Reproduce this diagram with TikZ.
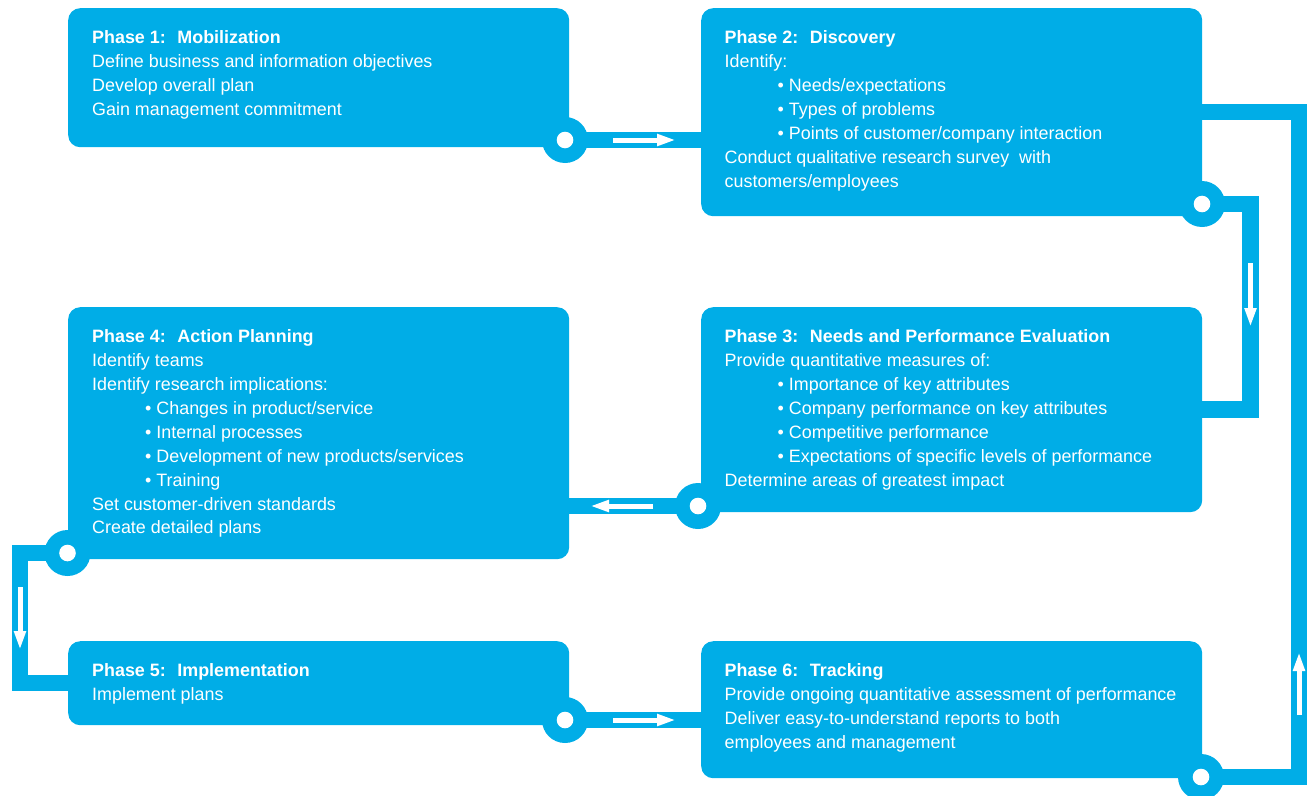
\documentclass[tikz,border=0pt]{standalone}
\usepackage{fontspec}
\setmainfont{Liberation Sans}
\usetikzlibrary{positioning, arrows.meta, backgrounds}
\definecolor{phaseblue}{RGB}{0,173,231}
\newcommand{\itm}{\hspace*{53pt}\textbullet\ }

\begin{document}
\begin{tikzpicture}[x=1pt, y=-1pt]
\tikzset{
phase/.style={fill=phaseblue, rounded corners=12pt, anchor=north west, inner sep=0pt}, % the six phase boxes
txt/.style={inner sep=0pt, align=left, text=white, font=\fontsize{17.9}{23.95}\selectfont}, % text inside a box
joint/.style={circle, fill=phaseblue, minimum size=46pt, inner sep=0pt,
  path picture={\fill[white] (path picture bounding box.center) circle (8.3pt);}}, % round joint with a hole
band/.style={draw=phaseblue, line width=16.5pt}, % the strips between the boxes
flow/.style={draw=white, line width=5pt, -{Triangle[length=19pt, width=11pt]}}, % arrow inside a strip
}
\useasboundingbox (0,0) rectangle (1308,795);

	% boxes
	\node[phase, minimum width=501pt, minimum height=139pt] (p1) at (68,8) {};
	\node[phase, minimum width=501pt, minimum height=208pt] (p2) at (701,8) {};
	\node[phase, minimum width=501pt, minimum height=205pt] (p3) at (701,307) {};
	\node[phase, minimum width=501pt, minimum height=252pt] (p4) at (68,307) {};
	\node[phase, minimum width=501pt, minimum height=84pt] (p5) at (68,641) {};
	\node[phase, minimum width=501pt, minimum height=137pt] (p6) at (701,641) {};

	% texts
	\node[txt, below right=18.4pt and 24pt of p1.north west] (t1) {\strut\textbf{Phase 1:~ Mobilization}\\
	Define business and information objectives\\
	Develop overall plan\\
	Gain management commitment};
	\node[txt, below right=18.4pt and 23.5pt of p2.north west] (t2) {\strut\textbf{Phase 2:~ Discovery}\\
	Identify:\\
	\itm Needs/expectations\\
	\itm Types of problems\\
	\itm Points of customer/company interaction\\
	Conduct qualitative research survey~ with\\
	customers/employees};
	\node[txt, below right=18.4pt and 23.5pt of p3.north west] (t3) {\strut\textbf{Phase 3:~ Needs and Performance Evaluation}\\
	Provide quantitative measures of:\\
	\itm Importance of key attributes\\
	\itm Company performance on key attributes\\
	\itm Competitive performance\\
	\itm Expectations of specific levels of performance\\
	Determine areas of greatest impact};
	\node[txt, below right=18.4pt and 24pt of p4.north west] (t4) {\strut\textbf{Phase 4:~ Action Planning}\\
	Identify teams\\
	Identify research implications:\\
	\itm Changes in product/service\\
	\itm Internal processes\\
	\itm Development of new products/services\\
	\itm Training\\
	Set customer-driven standards\\
	Create detailed plans};
	\node[txt, below right=18.4pt and 24pt of p5.north west] (t5) {\strut\textbf{Phase 5:~ Implementation}\\
	Implement plans};
	\node[txt, below right=18.4pt and 23.5pt of p6.north west] (t6) {\strut\textbf{Phase 6:~ Tracking}\\
	Provide ongoing quantitative assessment of performance\\
	Deliver easy-to-understand reports to both\\
	employees and management};

	% joints
	\node[joint] (c1) at (565,140) {};
	\node[joint] (c2) at (1202,204) {};
	\node[joint] (c3) at (698,506) {};
	\node[joint] (c4) at (67.5,553) {};
	\node[joint] (c5) at (565,720) {};
	\node[joint] (c6) at (1201,777) {};
	\coordinate (k2) at (1250.5,204);
	\coordinate (k4) at (20,553);
	\coordinate (k6) at (1299,777);

	% strips
	\begin{scope}[on background layer]
	\draw[band] (c1.center) -- (c1.center -| p2.west);
	\draw[band] (c2.center) -- (k2) |- (p3.east);
	\draw[band] (c3.center) -- (c3.center -| p4.east);
	\draw[band] (c4.center) -- (k4) |- (p5.west);
	\draw[band] (c5.center) -- (c5.center -| p6.west);
	\draw[band] (c6.center) -- (k6) |- (p2.east);
	\end{scope}

	% arrows
	\draw[flow] ([xshift=48pt]c1.center) -- ++(63,0);
	\draw[flow] ([yshift=-59pt]k2) -- ++(0,64);
	\draw[flow] ([xshift=-45pt]c3.center) -- ++(-63,0);
	\draw[flow] ([yshift=-34pt]k4) -- ++(0,63);
	\draw[flow] ([xshift=48pt]c5.center) -- ++(63,0);
	\draw[flow] ([yshift=62pt]k6) -- ++(0,-63);
\end{tikzpicture}
\end{document}
